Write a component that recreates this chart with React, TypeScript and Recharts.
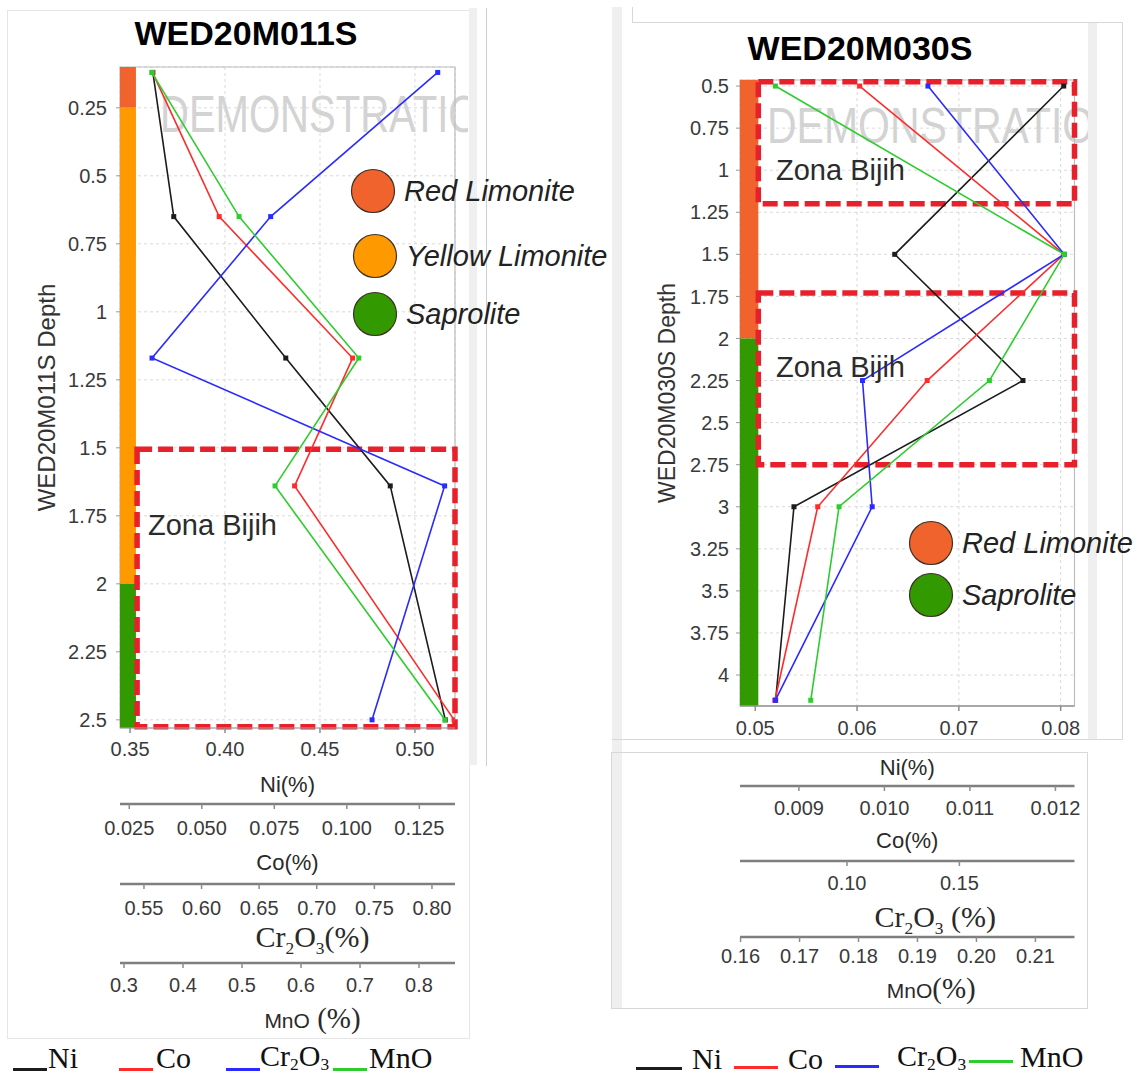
import React from 'react';
import { ScatterChart, Scatter, XAxis, YAxis, CartesianGrid, ReferenceArea } from 'recharts';

const SANS = '"Liberation Sans", Arial, sans-serif';
const SERIF = '"Liberation Serif", "Times New Roman", serif';

// ---- WED20M011S (left log) ----
const LEFT_DEPTH = [0.12, 0.65, 1.17, 1.64, 2.5];
const LEFT_NI = [0.362, 0.373, 0.432, 0.487, 0.516];
const LEFT_CO = [0.033, 0.056, 0.102, 0.082, 0.137];
const LEFT_CR = [0.805, 0.66, 0.557, 0.811, 0.748];
const LEFT_MNO = [0.347, 0.495, 0.698, 0.556, 0.844];
const LEFT_DEPTH_TICKS = [0.25, 0.5, 0.75, 1, 1.25, 1.5, 1.75, 2, 2.25, 2.5];
const LEFT_NI_TICKS = [0.35, 0.4, 0.45, 0.5];
const LEFT_CO_TICKS = [0.025, 0.05, 0.075, 0.1, 0.125];
const LEFT_CR_TICKS = [0.55, 0.6, 0.65, 0.7, 0.75, 0.8];
const LEFT_MNO_TICKS = [0.3, 0.4, 0.5, 0.6, 0.7, 0.8];
const LEFT_LITHO = [
  { name: 'Red Limonite', from: 0.1, to: 0.25 },
  { name: 'Yellow Limonite', from: 0.25, to: 2.0 },
  { name: 'Saprolite', from: 2.0, to: 2.53 },
];
const LEFT_ORE = [{ from: 1.505, to: 2.525 }];

// ---- WED20M030S (right log) ----
const RIGHT_DEPTH = [0.5, 1.5, 2.25, 3.0, 4.15];
const RIGHT_NI = [0.0803, 0.0637, 0.0763, 0.0538, 0.052];
const RIGHT_CO = [0.00971, 0.0121, 0.0105, 0.00922, 0.00872];
const RIGHT_CR = [0.136, 0.1966, 0.1069, 0.1112, 0.0681];
const RIGHT_MNO = [0.1659, 0.2149, 0.2022, 0.1767, 0.1719];
const RIGHT_DEPTH_TICKS = [0.5, 0.75, 1, 1.25, 1.5, 1.75, 2, 2.25, 2.5, 2.75, 3, 3.25, 3.5, 3.75, 4];
const RIGHT_NI_TICKS = [0.05, 0.06, 0.07, 0.08];
const RIGHT_CO_TICKS = [0.009, 0.01, 0.011, 0.012];
const RIGHT_CR_TICKS = [0.1, 0.15];
const RIGHT_MNO_TICKS = [0.16, 0.17, 0.18, 0.19, 0.2, 0.21];
const RIGHT_LITHO = [
  { name: 'Red Limonite', from: 0.464, to: 2.0 },
  { name: 'Saprolite', from: 2.0, to: 4.184 },
];
const RIGHT_ORE = [
  { from: 0.475, to: 1.2 },
  { from: 1.73, to: 2.75 },
];

const LITHO_COLORS: Record<string, string> = {
  'Red Limonite': '#f0632c',
  'Yellow Limonite': '#ff9900',
  Saprolite: '#339900',
};

type SeriesKey = 'ni' | 'co' | 'cr' | 'mn';
const SERIES_COLORS: Record<SeriesKey, string> = { ni: '#1c1c1c', co: '#ff2b2b', cr: '#2b2bff', mn: '#2ecc2e' };
// recharts stacks bottom axes in id order, so prefix them
const AXIS_IDS: Record<SeriesKey, string> = { ni: 'x1ni', co: 'x2co', cr: 'x3cr', mn: 'x4mn' };

type Part = { t: string; font: string; size: number; sub?: boolean };

function renderParts(parts: Part[], subShift = 7) {
  let shift = 0;
  return parts.map((p, i) => {
    const target = p.sub ? subShift : 0;
    const dy = target - shift;
    shift = target;
    return (
      <tspan key={i} dy={dy} fontFamily={p.font} fontSize={p.sub ? p.size * 0.58 : p.size}>
        {p.t}
      </tspan>
    );
  });
}

const crParts = (space: boolean): Part[] => [
  { t: 'Cr', font: SERIF, size: 30 },
  { t: '2', font: SERIF, size: 30, sub: true },
  { t: 'O', font: SERIF, size: 30 },
  { t: '3', font: SERIF, size: 30, sub: true },
  { t: space ? ' (%)' : '(%)', font: SERIF, size: 30 },
];

interface AxisSpec {
  id: SeriesKey;
  domain: [number, number];
  ticks: number[];
  digits: number;
  height: number;
  tickMargin: number;
  label: Part[];
  labelDx: number;
  labelDy: number;
  line: { stroke: string; strokeWidth: number };
}

interface PanelProps {
  width: number;
  height: number;
  top: number;
  right: number;
  yWidth: number;
  yTickMargin: number;
  depth: number[];
  values: Record<SeriesKey, number[]>;
  axes: AxisSpec[];
  yDomain: [number, number];
  yTicks: number[];
  yLabel: string;
  yLabelSize: number;
  yLabelX: number;
  litho: { name: string; from: number; to: number }[];
  stripTo: number;
  ore: { from: number; to: number }[];
  oreFrom: number;
}

function DepthPanel(p: PanelProps) {
  const ni = p.axes[0];
  const niId = AXIS_IDS.ni;
  return (
    <ScatterChart width={p.width} height={p.height} margin={{ top: p.top, right: p.right, bottom: 0, left: 0 }}>
      <CartesianGrid xAxisId={niId} yAxisId="d" strokeDasharray="3 3" stroke="#d9d9d9" />
      {p.axes.map((a) => (
        <XAxis
          key={a.id}
          xAxisId={AXIS_IDS[a.id]}
          type="number"
          dataKey="v"
          domain={a.domain}
          ticks={a.ticks}
          allowDataOverflow
          interval={0}
          height={a.height}
          tickSize={5}
          tickMargin={a.tickMargin}
          tick={{ fontSize: 20, fill: '#3a3a3a', fontFamily: SANS }}
          tickFormatter={(v: number) => v.toFixed(a.digits)}
          axisLine={a.line}
          tickLine={{ stroke: '#8c8c8c', strokeWidth: 1.5 }}
          label={(lp: any) => {
            const vb = lp && lp.viewBox ? lp.viewBox : { x: 0, y: 0, width: 0, height: 0 };
            return (
              <text x={vb.x + vb.width / 2 + a.labelDx} y={vb.y + a.labelDy} textAnchor="middle" fill="#2a2a2a">
                {renderParts(a.label)}
              </text>
            );
          }}
        />
      ))}
      <YAxis
        yAxisId="d"
        type="number"
        dataKey="depth"
        domain={p.yDomain}
        ticks={p.yTicks}
        reversed
        allowDataOverflow
        interval={0}
        width={p.yWidth}
        tickSize={4}
        tickMargin={p.yTickMargin}
        tick={{ fontSize: 20, fill: '#3a3a3a', fontFamily: SANS }}
        axisLine={false}
        tickLine={{ stroke: '#9a9a9a' }}
        label={(lp: any) => {
          const vb = lp && lp.viewBox ? lp.viewBox : { x: 0, y: p.top, width: p.yWidth, height: 600 };
          const x = vb.x + p.yLabelX;
          const y = vb.y + vb.height / 2;
          return (
            <text x={x} y={y} transform={`rotate(-90, ${x}, ${y})`} textAnchor="middle" fill="#333" fontFamily={SANS} fontSize={p.yLabelSize}>
              {p.yLabel}
            </text>
          );
        }}
      />
      <ReferenceArea
        xAxisId={niId}
        yAxisId="d"
        x1={ni.domain[0]}
        x2={ni.domain[1]}
        y1={p.yDomain[0]}
        y2={p.yDomain[1]}
        fill="none"
        stroke="#bdbdbd"
        strokeWidth={1.2}
      />
      {p.litho.map((z) => (
        <ReferenceArea
          key={z.name}
          xAxisId={niId}
          yAxisId="d"
          x1={ni.domain[0]}
          x2={p.stripTo}
          y1={z.from}
          y2={z.to}
          fill={LITHO_COLORS[z.name]}
          fillOpacity={1}
          stroke="none"
        />
      ))}
      {p.ore.map((z, i) => (
        <ReferenceArea
          key={'ore' + i}
          xAxisId={niId}
          yAxisId="d"
          x1={p.oreFrom}
          x2={ni.domain[1]}
          y1={z.from}
          y2={z.to}
          fill="none"
          stroke="#e8202b"
          strokeWidth={5.5}
          strokeDasharray="15 6"
        />
      ))}
      {p.axes.map((a) => {
        const color = SERIES_COLORS[a.id];
        const data = p.depth.map((d, i) => ({ depth: d, v: p.values[a.id][i] }));
        return (
          <Scatter
            key={'s' + a.id}
            xAxisId={AXIS_IDS[a.id]}
            yAxisId="d"
            data={data}
            line={{ stroke: color, strokeWidth: 1.6 }}
            shape={(sp: any) => <rect x={sp.cx - 2.5} y={sp.cy - 2.5} width={5} height={5} fill={color} />}
            isAnimationActive={false}
          />
        );
      })}
    </ScatterChart>
  );
}

const gray = { stroke: '#a8a8a8', strokeWidth: 1.2 };
const dark = { stroke: '#7f7f7f', strokeWidth: 2.5 };

const LEFT_AXES: AxisSpec[] = [
  { id: 'ni', domain: [0.3447, 0.5211], ticks: LEFT_NI_TICKS, digits: 2, height: 76, tickMargin: 9,
    label: [{ t: 'Ni(%)', font: SANS, size: 22 }], labelDx: 0, labelDy: 64, line: gray },
  { id: 'co', domain: [0.0218, 0.1373], ticks: LEFT_CO_TICKS, digits: 3, height: 80, tickMargin: 12,
    label: [{ t: 'Co(%)', font: SANS, size: 22 }], labelDx: 0, labelDy: 66, line: dark },
  { id: 'cr', domain: [0.5292, 0.82], ticks: LEFT_CR_TICKS, digits: 2, height: 79, tickMargin: 12,
    label: crParts(false), labelDx: 25, labelDy: 63, line: dark },
  { id: 'mn', domain: [0.2932, 0.861], ticks: LEFT_MNO_TICKS, digits: 1, height: 77, tickMargin: 10,
    label: [{ t: 'MnO', font: SANS, size: 21 }, { t: ' (%)', font: SERIF, size: 29 }], labelDx: 25, labelDy: 65, line: dark },
];

const RIGHT_AXES: AxisSpec[] = [
  { id: 'ni', domain: [0.0485, 0.08136], ticks: RIGHT_NI_TICKS, digits: 2, height: 80, tickMargin: 10,
    label: [{ t: 'Ni(%)', font: SANS, size: 22 }], labelDx: 0, labelDy: 69, line: { stroke: '#999', strokeWidth: 1.5 } },
  { id: 'co', domain: [0.008311, 0.012223], ticks: RIGHT_CO_TICKS, digits: 3, height: 75, tickMargin: 10,
    label: [{ t: 'Co(%)', font: SANS, size: 22 }], labelDx: 0, labelDy: 62, line: dark },
  { id: 'cr', domain: [0.0524, 0.2012], ticks: RIGHT_CR_TICKS, digits: 2, height: 76, tickMargin: 10,
    label: crParts(true), labelDx: 28, labelDy: 66, line: dark },
  { id: 'mn', domain: [0.1599, 0.21663], ticks: RIGHT_MNO_TICKS, digits: 2, height: 71, tickMargin: 7,
    label: [{ t: 'MnO', font: SANS, size: 21 }, { t: '(%)', font: SERIF, size: 29 }], labelDx: 24, labelDy: 61, line: dark },
];

const abs = (s: React.CSSProperties): React.CSSProperties => ({ position: 'absolute', boxSizing: 'border-box', ...s });

const LEGEND_MARKERS = [
  { name: 'Red Limonite', cx: 373, cy: 191 },
  { name: 'Yellow Limonite', cx: 375, cy: 256 },
  { name: 'Saprolite', cx: 375, cy: 314 },
  { name: 'Red Limonite', cx: 931, cy: 543 },
  { name: 'Saprolite', cx: 931, cy: 595 },
];

export default function App() {
  const crLegend = crParts(false).slice(0, 4);
  return (
    <div style={abs({ left: 0, top: 0, width: 1147, height: 1077, background: '#fff', overflow: 'hidden' })}>
      {/* frames */}
      <div style={abs({ left: 7, top: 10, width: 463, height: 1029, border: '1px solid #e6e6e6' })} />
      <div style={abs({ left: 469, top: 8, width: 8, height: 757, background: '#efefef' })} />
      <div style={abs({ left: 486, top: 8, width: 1, height: 758, background: '#cfcfcf' })} />
      <div style={abs({ left: 612, top: 7, width: 10, height: 1001, background: '#efefef' })} />
      <div style={abs({ left: 632, top: 22, width: 491, height: 718, borderTop: '1px solid #d8d8d8', borderRight: '1px solid #d8d8d8' })} />
      <div style={abs({ left: 632, top: 7, width: 1, height: 16, background: '#d8d8d8' })} />
      <div style={abs({ left: 612, top: 739, width: 511, height: 1, background: '#d8d8d8' })} />
      <div style={abs({ left: 1088, top: 23, width: 9, height: 716, background: '#efefef' })} />
      <div style={abs({ left: 611, top: 752, width: 477, height: 257, border: '1px solid #d8d8d8' })} />

      {/* watermark */}
      <svg width={1147} height={1077} style={abs({ left: 0, top: 0 })}>
        <defs>
          <clipPath id="wmL"><rect x={120} y={0} width={348} height={760} /></clipPath>
          <clipPath id="wmR"><rect x={740} y={0} width={348} height={740} /></clipPath>
        </defs>
        <g clipPath="url(#wmL)">
          <text transform="translate(160,132) scale(0.77,1)" fontFamily={SANS} fontSize={52} fill="#d3d3d3">DEMONSTRATION</text>
        </g>
        <g clipPath="url(#wmR)">
          <text transform="translate(767,143) scale(0.82,1)" fontFamily={SANS} fontSize={50} fill="#d3d3d3">DEMONSTRATION</text>
        </g>
      </svg>

      <div style={abs({ left: 0, top: 0 })}>
        <DepthPanel
          width={480}
          height={1040}
          top={67}
          right={25}
          yWidth={120}
          yTickMargin={9}
          depth={LEFT_DEPTH}
          values={{ ni: LEFT_NI, co: LEFT_CO, cr: LEFT_CR, mn: LEFT_MNO }}
          axes={LEFT_AXES}
          yDomain={[0.1, 2.53]}
          yTicks={LEFT_DEPTH_TICKS}
          yLabel="WED20M011S Depth"
          yLabelSize={24}
          yLabelX={55}
          litho={LEFT_LITHO}
          stripTo={0.3531}
          ore={LEFT_ORE}
          oreFrom={0.3537}
        />
      </div>
      <div style={abs({ left: 600, top: 0 })}>
        <DepthPanel
          width={500}
          height={1008}
          top={80}
          right={25.5}
          yWidth={140}
          yTickMargin={7}
          depth={RIGHT_DEPTH}
          values={{ ni: RIGHT_NI, co: RIGHT_CO, cr: RIGHT_CR, mn: RIGHT_MNO }}
          axes={RIGHT_AXES}
          yDomain={[0.464, 4.184]}
          yTicks={RIGHT_DEPTH_TICKS}
          yLabel="WED20M030S Depth"
          yLabelSize={23}
          yLabelX={75}
          litho={RIGHT_LITHO}
          stripTo={0.0503}
          ore={RIGHT_ORE}
          oreFrom={0.0503}
        />
      </div>

      {/* titles, legends, annotations */}
      <svg width={1147} height={1077} style={abs({ left: 0, top: 0, pointerEvents: 'none' })}>
        <text x={246} y={45} textAnchor="middle" fontFamily={SANS} fontWeight="bold" fontSize={34} fill="#000">WED20M011S</text>
        <text x={860} y={60} textAnchor="middle" fontFamily={SANS} fontWeight="bold" fontSize={34} fill="#000">WED20M030S</text>

        <text x={148} y={535} fontFamily={SANS} fontSize={29} fill="#2b2b2b">Zona Bijih</text>
        <text x={776} y={180} fontFamily={SANS} fontSize={29} fill="#2b2b2b">Zona Bijih</text>
        <text x={776} y={377} fontFamily={SANS} fontSize={29} fill="#2b2b2b">Zona Bijih</text>

        {LEGEND_MARKERS.map((l, i) => (
          <g key={i}>
            <circle cx={l.cx} cy={l.cy} r={21.5} fill={LITHO_COLORS[l.name]} stroke="#3d3027" strokeWidth={1.2} />
            <text x={l.cx + 31} y={l.cy + 10} fontFamily={SANS} fontStyle="italic" fontSize={29} fill="#222">{l.name}</text>
          </g>
        ))}

        {/* bottom legend, left */}
        <rect x={13} y={1068} width={34} height={3} fill={SERIES_COLORS.ni} />
        <text x={48} y={1068} fontFamily={SERIF} fontSize={30} fill="#111">Ni</text>
        <rect x={119} y={1068} width={34} height={3} fill={SERIES_COLORS.co} />
        <text x={156} y={1068} fontFamily={SERIF} fontSize={30} fill="#111">Co</text>
        <rect x={226} y={1068} width={34} height={3} fill={SERIES_COLORS.cr} />
        <text x={260} y={1066} fill="#111">{renderParts(crLegend, 4)}</text>
        <rect x={333} y={1068} width={34} height={3} fill={SERIES_COLORS.mn} />
        <text x={369} y={1068} fontFamily={SERIF} fontSize={30} fill="#111">MnO</text>

        {/* bottom legend, right */}
        <rect x={636} y={1067} width={46} height={3} fill={SERIES_COLORS.ni} />
        <text x={692} y={1069} fontFamily={SERIF} fontSize={30} fill="#111">Ni</text>
        <rect x={734} y={1066} width={44} height={3} fill={SERIES_COLORS.co} />
        <text x={788} y={1069} fontFamily={SERIF} fontSize={30} fill="#111">Co</text>
        <rect x={835} y={1065} width={44} height={3} fill={SERIES_COLORS.cr} />
        <text x={897} y={1066} fill="#111">{renderParts(crLegend, 4)}</text>
        <rect x={969} y={1060} width={44} height={3} fill={SERIES_COLORS.mn} />
        <text x={1020} y={1067} fontFamily={SERIF} fontSize={30} fill="#111">MnO</text>
      </svg>
    </div>
  );
}
